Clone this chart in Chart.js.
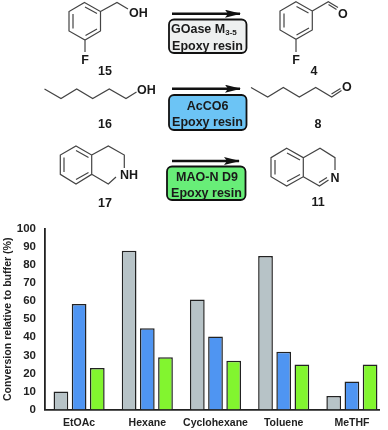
<!DOCTYPE html>
<html><head><meta charset="utf-8">
<style>html,body{margin:0;padding:0;background:#fff}#w{position:relative;width:388px;height:430px;overflow:hidden}
canvas{position:absolute;left:0;top:0}svg{position:absolute;left:0;top:0}
text{font-family:"Liberation Sans",Arial,sans-serif;font-weight:bold;fill:#1a1a1a}
.b{fill:none;stroke:#444;stroke-width:1.2}
.k{stroke:#111;stroke-width:1.8;rx:5}</style>
<script src="https://cdn.jsdelivr.net/npm/chart.js@4"></script></head><body>
<div id="w"><canvas id="c" width="388" height="430"></canvas>
<svg width="388" height="430" viewBox="0 0 388 430">
<defs><marker id="a" markerWidth="16" markerHeight="10" refX="15" refY="4" orient="auto" markerUnits="userSpaceOnUse"><path d="M0 0L16 4L0 8L3 4Z" fill="#111"/></marker></defs>
<!-- 15 -->
<path class="b" d="M84.5 2.5L100.5 11.5V31L85 40L69 31V11.5ZM73 14V28.5M85.5 35.5L97 29M85 7L97 13.5M100.5 11.5L117 2.5L128 9M85 40V52"/>
<text x="129" y="17" font-size="12.5">OH</text><text x="85" y="64" font-size="12.5" text-anchor="middle">F</text>
<text x="105" y="75" font-size="12.5" text-anchor="middle">15</text>
<!-- 4 -->
<path class="b" d="M296 1.7L312.3 11V30L296 39.3L280 30V11ZM284 13.5V27.5M296.5 35L309 28M296.5 6.5L308.5 13M312.3 11L328.3 1.7L338 7.5M328.5 4.5L336.5 9.5M296 39.3V52"/>
<text x="338" y="18" font-size="12.5">O</text><text x="296" y="64" font-size="12.5" text-anchor="middle">F</text>
<text x="314" y="75" font-size="12.5" text-anchor="middle">4</text>
<!-- 16 -->
<path class="b" d="M44.5 89L61 98.5L76.7 89L92.7 98.5L109.3 89L126 98.5L136.5 92"/>
<text x="137" y="94" font-size="12.5">OH</text><text x="105" y="128" font-size="12.5" text-anchor="middle">16</text>
<!-- 8 -->
<path class="b" d="M251 87.5L267.7 97L283.3 87.5L299.3 97L315.7 87.5L331.7 97L341.5 90.5M331.5 94L340.5 88.5"/>
<text x="342" y="91" font-size="12.5">O</text><text x="318" y="128" font-size="12.5" text-anchor="middle">8</text>
<!-- 17 -->
<path class="b" d="M76 146L91.7 155V174.3L76 184L60.3 174.3V155ZM64 157.5V172M76 179.5L88.5 172.5M76 150.5L88.5 157.5M91.7 155L108.3 146L124.3 155V168M116 177L108.3 184L91.7 174.3"/>
<text x="120" y="179" font-size="12.5">NH</text><text x="105" y="207" font-size="12.5" text-anchor="middle">17</text>
<!-- 11 -->
<path class="b" d="M286.7 148.3L303.3 157.7V176.7L286.7 186L271 176.7V157.7ZM275 160V174.5M287 181.5L300 174.5M287 153L300 160M303.3 157.7L320 148.3L335 157.7V170M328.5 180L319.5 186L303.3 176.7M327 177.5L319 182.5"/>
<text x="335" y="182" font-size="12.5" text-anchor="middle">N</text><text x="318" y="206" font-size="12.5" text-anchor="middle">11</text>
<!-- arrows and boxes -->
<line x1="172" y1="13.7" x2="240" y2="13.7" stroke="#111" stroke-width="2.6" marker-end="url(#a)"/>
<line x1="172" y1="88.7" x2="240" y2="88.7" stroke="#111" stroke-width="2.6" marker-end="url(#a)"/>
<line x1="172" y1="161" x2="239" y2="161" stroke="#111" stroke-width="2.6" marker-end="url(#a)"/>
<rect class="k" x="169" y="19.5" width="77.5" height="33.5" fill="#eef0f0"/>
<rect class="k" x="169" y="95" width="77.5" height="35" fill="#6cc4f5"/>
<rect class="k" x="167" y="166.5" width="78.5" height="33.5" fill="#68ee78"/>
<text x="171" y="32.5" font-size="12.5">GOase M<tspan font-size="8" dy="2.5">3-5</tspan></text>
<text x="207.5" y="50" font-size="12.5" text-anchor="middle">Epoxy resin</text>
<text x="207.5" y="110" font-size="12.5" text-anchor="middle">AcCO6</text>
<text x="207.5" y="126" font-size="12.5" text-anchor="middle">Epoxy resin</text>
<text x="207" y="180.5" font-size="12.5" text-anchor="middle">MAO-N D9</text>
<text x="206.5" y="197" font-size="12.5" text-anchor="middle">Epoxy resin</text>
</svg></div>
<script>
const categories = ["EtOAc","Hexane","Cyclohexane","Toluene","MeTHF"];
const galactoseOxidase = [10,88,61,85,7.5];
const acCO6 = [58.5,45,40.5,32,15.5];
const maoN = [23,29,27,25,25];
const yTitle = "Conversion relative to buffer (%)";
const barStyle = {borderColor:"#222",borderWidth:1.5,barPercentage:0.81,categoryPercentage:0.8};
const trimBaseline = {id:"trimBaseline",afterDraw(chart){
  const g=chart.ctx,a=chart.chartArea;
  g.save();g.fillStyle="#fff";g.fillRect(380,a.bottom-3,8,6);g.restore();
}};
new Chart(document.getElementById("c"),{
  type:"bar",
  data:{labels:categories,datasets:[
    {label:"GOase M3-5",data:galactoseOxidase,backgroundColor:"#b7c3c7",...barStyle},
    {label:"AcCO6",data:acCO6,backgroundColor:"#4f95f2",...barStyle},
    {label:"MAO-N D9",data:maoN,backgroundColor:"#82f52f",...barStyle}
  ]},
  plugins:[trimBaseline],
  options:{responsive:false,animation:false,
    layout:{padding:{top:229,right:2,left:0,bottom:0}},
    plugins:{legend:{display:false},tooltip:{enabled:false}},
    scales:{
      x:{grid:{display:false,drawTicks:false},border:{color:"#222",width:1.8},
         afterFit:s=>{s.height=20.5},
         ticks:{color:"#222",padding:7.5,maxRotation:0,autoSkip:false,font:{family:"Liberation Sans",weight:"bold",size:10.5}}},
      y:{min:0,max:100,grid:{display:false,drawTicks:false},border:{color:"#222",width:1.8},
         afterFit:s=>{s.width=45},
         title:{display:true,text:yTitle,color:"#222",padding:{top:2,bottom:0},font:{family:"Liberation Sans",weight:"bold",size:10.6}},
         ticks:{stepSize:10,color:"#222",padding:9,font:{family:"Liberation Sans",weight:"bold",size:11.5}}}
    }
  }
});
</script></body></html>
